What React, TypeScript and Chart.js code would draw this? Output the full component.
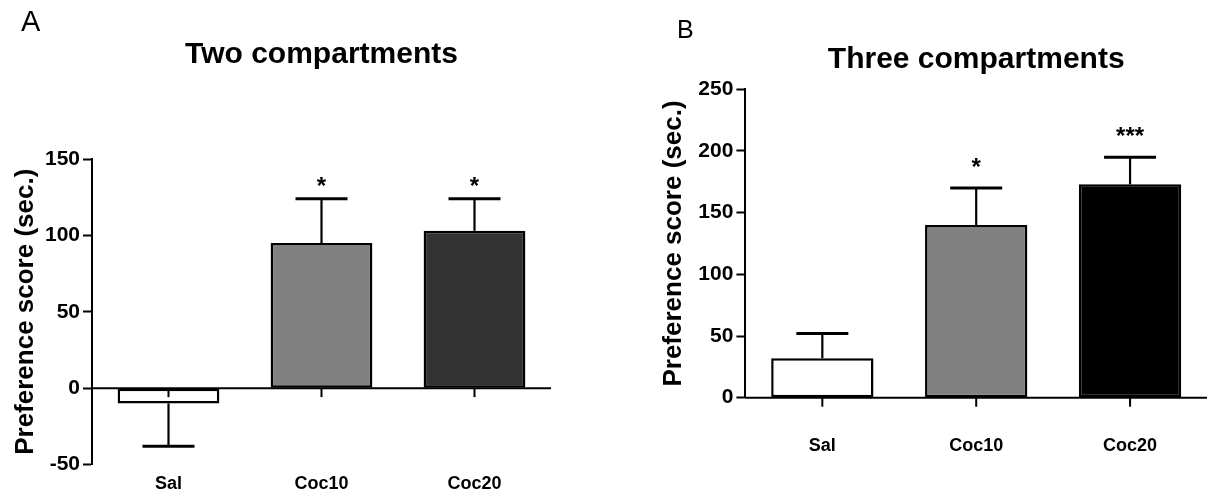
import { useEffect, useRef } from 'react';
import { Chart, registerables } from 'chart.js';

Chart.register(...registerables);

const FONT = '"Liberation Sans", Arial, Helvetica, sans-serif';

// Groups shared by both conditioning protocols
const groups = ['Sal', 'Coc10', 'Coc20'];

// Two-compartment apparatus: mean preference score and SEM (s)
const twoMeans = [-10, 95, 103];
const twoSem = [28, 29, 21];
const twoMarks = ['', '*', '*'];
const twoTicks = [-50, 0, 50, 100, 150];
const twoColors = ['#ffffff', '#808080', '#333333'];

// Three-compartment apparatus: mean preference score and SEM (s)
const threeMeans = [32, 140, 173];
const threeSem = [20, 30, 22];
const threeMarks = ['', '*', '***'];
const threeTicks = [0, 50, 100, 150, 200, 250];
const threeColors = ['#ffffff', '#808080', '#000000'];

const yAxisTitle = 'Preference score (sec.)';

type PanelSpec = {
  letter: string;
  letterX: number;
  letterY: number;
  letterSize: number;
  title: string;
  titleSize: number;
  titleTop: number;
  titleBottom: number;
  means: number[];
  sem: number[];
  marks: string[];
  colors: string[];
  ticks: number[];
  padLeft: number;
  padRight: number;
  yWidth: number;
  yTitlePad: number;
  xHeight: number;
  labelPad: number;
  markGap: number;
};

// Draws the zero baseline with category ticks, the SEM whiskers and the
// significance asterisks, plus the panel letter.
function makeDecor(p: PanelSpec) {
  return {
    id: 'panelDecor',
    afterDatasetsDraw(chart: any) {
      const { ctx, chartArea, scales } = chart;
      const xs = scales.x;
      const ys = scales.y;
      const ds = chart.data.datasets[0];
      const meta = chart.getDatasetMeta(0);
      const y0 = ys.getPixelForValue(0);
      ctx.save();
      ctx.strokeStyle = '#000';
      ctx.lineCap = 'butt';

      ctx.lineWidth = 2;
      ctx.beginPath();
      ctx.moveTo(chartArea.left - 1, y0);
      ctx.lineTo(chartArea.right, y0);
      ctx.stroke();

      groups.forEach((_g, i) => {
        const px = xs.getPixelForValue(i);
        ctx.beginPath();
        ctx.moveTo(px, y0);
        ctx.lineTo(px, y0 + 9);
        ctx.stroke();
      });

      meta.data.forEach((bar: any, i: number) => {
        const v = ds.data[i] as number;
        const e = ds.sem[i] as number;
        const end = v >= 0 ? v + e : v - e;
        const pv = ys.getPixelForValue(v);
        const pe = ys.getPixelForValue(end);
        ctx.lineWidth = 2.2;
        ctx.beginPath();
        ctx.moveTo(bar.x, pv);
        ctx.lineTo(bar.x, pe);
        ctx.stroke();
        ctx.lineWidth = 3;
        ctx.beginPath();
        ctx.moveTo(bar.x - 26, pe);
        ctx.lineTo(bar.x + 26, pe);
        ctx.stroke();
        const mark = ds.marks[i];
        if (mark) {
          ctx.fillStyle = '#000';
          ctx.font = `bold 24px ${FONT}`;
          ctx.textAlign = 'center';
          ctx.textBaseline = 'alphabetic';
          ctx.fillText(mark, bar.x, pe - p.markGap);
        }
      });
      ctx.restore();
    },
    afterDraw(chart: any) {
      const { ctx } = chart;
      ctx.save();
      ctx.fillStyle = '#000';
      ctx.font = `${p.letterSize}px ${FONT}`;
      ctx.textAlign = 'left';
      ctx.textBaseline = 'middle';
      ctx.fillText(p.letter, p.letterX, p.letterY);
      ctx.restore();
    },
  };
}

function buildConfig(p: PanelSpec): any {
  return {
    type: 'bar',
    data: {
      labels: groups,
      datasets: [
        {
          data: p.means,
          sem: p.sem,
          marks: p.marks,
          backgroundColor: p.colors,
          borderColor: '#000',
          borderWidth: 2.5,
          borderSkipped: false,
          barPercentage: 0.665,
          categoryPercentage: 1,
        },
      ],
    },
    options: {
      responsive: false,
      animation: false,
      devicePixelRatio: 1,
      layout: { padding: { left: p.padLeft, right: p.padRight, top: 0, bottom: 0 } },
      plugins: {
        legend: { display: false },
        tooltip: { enabled: false },
        title: {
          display: true,
          text: p.title,
          fullSize: false,
          color: '#000',
          font: { family: FONT, size: p.titleSize, weight: 'bold' },
          padding: { top: p.titleTop, bottom: p.titleBottom },
        },
      },
      scales: {
        x: {
          type: 'category',
          grid: { display: false },
          border: { display: false },
          ticks: {
            color: '#000',
            font: { family: FONT, size: 18, weight: 'bold' },
            padding: p.labelPad,
            maxRotation: 0,
          },
          afterFit: (s: any) => {
            s.height = p.xHeight;
          },
        },
        y: {
          min: p.ticks[0],
          max: p.ticks[p.ticks.length - 1],
          afterBuildTicks: (s: any) => {
            s.ticks = p.ticks.map((v) => ({ value: v }));
          },
          border: { display: true, color: '#000', width: 2 },
          grid: {
            drawOnChartArea: false,
            drawTicks: true,
            tickLength: 9,
            tickWidth: 2,
            color: '#000',
          },
          ticks: {
            color: '#000',
            font: { family: FONT, size: 21, weight: 'bold' },
            padding: 3,
          },
          title: {
            display: true,
            text: yAxisTitle,
            color: '#000',
            font: { family: FONT, size: 26, weight: 'bold' },
            padding: { top: p.yTitlePad, bottom: 0 },
          },
          afterFit: (s: any) => {
            s.width = p.yWidth;
          },
        },
      },
    },
    plugins: [makeDecor(p)],
  };
}

const panelA: PanelSpec = {
  letter: 'A',
  letterX: 21,
  letterY: 23,
  letterSize: 29,
  title: 'Two compartments',
  titleSize: 30,
  titleTop: 37,
  titleBottom: 86,
  means: twoMeans,
  sem: twoSem,
  marks: twoMarks,
  colors: twoColors,
  ticks: twoTicks,
  padLeft: 0,
  padRight: 49,
  yWidth: 92,
  yTitlePad: 10,
  xHeight: 25.5,
  labelPad: 0.7,
  markGap: 5,
};

const panelB: PanelSpec = {
  letter: 'B',
  letterX: 77,
  letterY: 31,
  letterSize: 25,
  title: 'Three compartments',
  titleSize: 30,
  titleTop: 42,
  titleBottom: 11.3,
  means: threeMeans,
  sem: threeSem,
  marks: threeMarks,
  colors: threeColors,
  ticks: threeTicks,
  padLeft: 47,
  padRight: 1,
  yWidth: 98.4,
  yTitlePad: 11,
  xHeight: 92.3,
  labelPad: 29.5,
  markGap: 13,
};

function Panel({ spec, left, width }: { spec: PanelSpec; left: number; width: number }) {
  const ref = useRef<HTMLCanvasElement | null>(null);
  useEffect(() => {
    if (!ref.current) return;
    const chart = new Chart(ref.current, buildConfig(spec));
    return () => chart.destroy();
  }, [spec]);
  return (
    <canvas
      ref={ref}
      width={width}
      height={490}
      style={{ position: 'absolute', left, top: 0, width, height: 490 }}
    />
  );
}

export default function App() {
  return (
    <div
      style={{
        position: 'absolute',
        left: 0,
        top: 0,
        width: 1208,
        height: 490,
        background: '#fff',
        overflow: 'hidden',
      }}
    >
      <Panel spec={panelA} left={0} width={600} />
      <Panel spec={panelB} left={600} width={608} />
    </div>
  );
}
